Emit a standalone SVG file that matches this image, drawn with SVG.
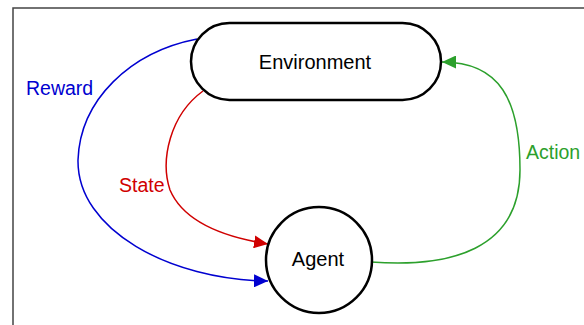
<svg xmlns="http://www.w3.org/2000/svg" width="584" height="325" viewBox="0 0 584 325">
<style>
.lbl{font-family:"Liberation Sans",Arial,sans-serif;font-size:19.5px}
.nl{font-size:20px}
.node{fill:#fff;stroke:#000;stroke-width:2.5}
.edge{fill:none;stroke-width:1.5}
</style>
<defs>
<marker id="ab" markerUnits="userSpaceOnUse" markerWidth="15" markerHeight="13" refX="14" refY="6.5" orient="auto"><path d="M0,0 L14,6.5 L0,13 Z" fill="#0000d0"/></marker>
<marker id="ar" markerUnits="userSpaceOnUse" markerWidth="15" markerHeight="13" refX="14" refY="6.5" orient="auto"><path d="M0,0 L14,6.5 L0,13 Z" fill="#d00000"/></marker>
<marker id="ag" markerUnits="userSpaceOnUse" markerWidth="15" markerHeight="13" refX="14" refY="6.5" orient="auto"><path d="M0,0 L14,6.5 L0,13 Z" fill="#2ca02c"/></marker>
</defs>
<rect width="584" height="325" fill="#fff"/>
<path d="M13,330 L13,8 L590,8" fill="none" stroke="#444" stroke-width="1.5"/>
<g id="connectors">
<path class="edge" stroke="#0000d0" d="M197,39 C130,52 80,100 78,160 C77,230 170,280 268,281" marker-end="url(#ab)"/>
<path class="edge" stroke="#d00000" d="M203,91 C170,115 160,160 170,190 C185,225 230,238 268,244" marker-end="url(#ar)"/>
<path class="edge" stroke="#2ca02c" d="M371,262 C450,268 520,250 520,170 C520,100 500,62 442,62" marker-end="url(#ag)"/>
<text class="lbl" x="26" y="95" fill="#0000d0">Reward</text>
<text class="lbl" x="119" y="192" fill="#d00000">State</text>
<text class="lbl" x="526" y="159" fill="#2ca02c">Action</text>
</g>
<g id="environment">
<rect class="node" x="191" y="23" width="250" height="77" rx="38.5"/>
<text class="lbl nl" x="315" y="69" text-anchor="middle">Environment</text>
</g>
<g id="agent">
<circle class="node" cx="319" cy="260" r="53"/>
<text class="lbl nl" x="318" y="266" text-anchor="middle">Agent</text>
</g>
</svg>
